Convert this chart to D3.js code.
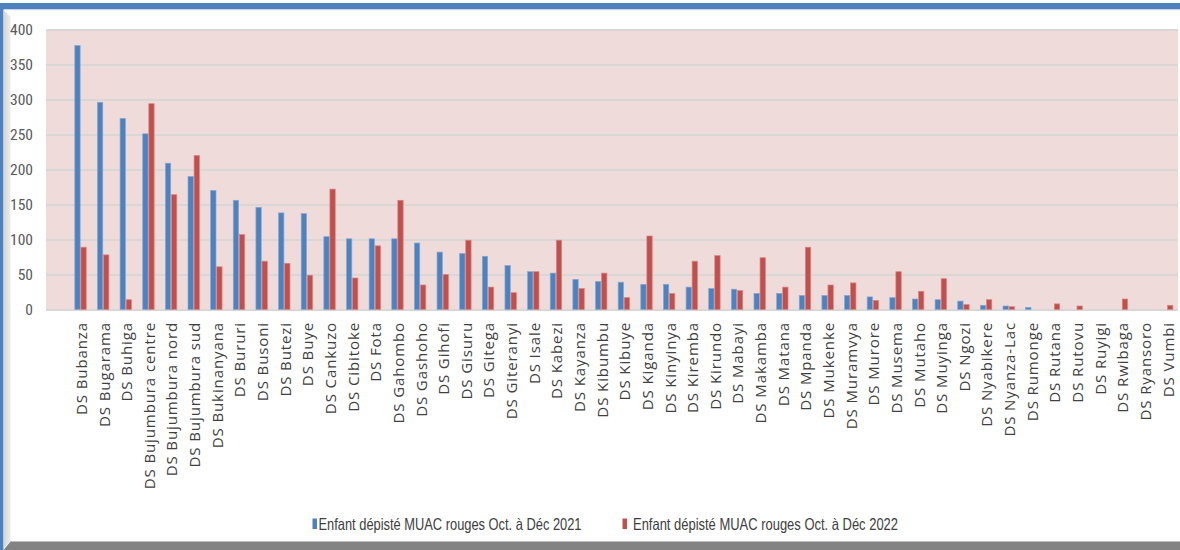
<!DOCTYPE html>
<html>
<head>
<meta charset="utf-8">
<script src="https://cdn.jsdelivr.net/npm/d3@7/dist/d3.min.js"></script>
<style>
  html, body { margin: 0; padding: 0; background: #ffffff; }
  svg { display: block; }
</style>
</head>
<body>
<svg id="chart" width="1180" height="550"></svg>
<script>
// Districts sanitaires (one group of bars per district)
const categories = [
  "DS Bubanza", "DS Bugarama", "DS Buhiga", "DS Bujumbura centre", "DS Bujumbura nord",
  "DS Bujumbura sud", "DS Bukinanyana", "DS Bururi", "DS Busoni", "DS Butezi",
  "DS Buye", "DS Cankuzo", "DS Cibitoke", "DS Fota", "DS Gahombo",
  "DS Gashoho", "DS Gihofi", "DS Gisuru", "DS Gitega", "DS Giteranyi",
  "DS Isale", "DS Kabezi", "DS Kayanza", "DS Kibumbu", "DS Kibuye",
  "DS Kiganda", "DS Kinyinya", "DS Kiremba", "DS Kirundo", "DS Mabayi",
  "DS Makamba", "DS Matana", "DS Mpanda", "DS Mukenke", "DS Muramvya",
  "DS Murore", "DS Musema", "DS Mutaho", "DS Muyinga", "DS Ngozi",
  "DS Nyabikere", "DS Nyanza-Lac", "DS Rumonge", "DS Rutana", "DS Rutovu",
  "DS Ruyigi", "DS Rwibaga", "DS Ryansoro", "DS Vumbi"
];

// Enfants dépistés MUAC rouges, Oct. à Déc 2021
const values2021 = [
  377, 296, 273, 251, 209, 190, 170, 156, 146, 138,
  137, 104, 101, 101, 101, 95, 82, 80, 76, 63,
  54, 52, 43, 40, 39, 36, 36, 32, 30, 29,
  23, 23, 20, 20, 20, 18, 17, 15, 14, 12,
  6, 5, 3, 0, 0, 0, 0, 0, 0
];

// Enfants dépistés MUAC rouges, Oct. à Déc 2022
const values2022 = [
  89, 78, 14, 294, 164, 220, 61, 107, 69, 66,
  49, 172, 45, 91, 156, 35, 50, 99, 32, 24,
  54, 99, 30, 52, 17, 105, 23, 69, 77, 27,
  74, 32, 89, 35, 38, 13, 54, 26, 44, 7,
  14, 4, 0, 8, 5, 0, 15, 0, 6
];

const seriesNames = [
  "Enfant dépisté MUAC rouges Oct. à Déc 2021",
  "Enfant dépisté MUAC rouges Oct. à Déc 2022"
];
const seriesColors = ["#4f81bd", "#c0504d"];
const seriesStrokes = ["#86a7d3", "#d88583"];

const yTicks = [0, 50, 100, 150, 200, 250, 300, 350, 400];

const svg = d3.select("#chart");
const W = 1180, H = 550;

// ---- outer frame: blue top and left edges, grey bottom edge ----
const frame = svg.append("g");
frame.append("rect").attr("x", 0).attr("y", 3).attr("width", W).attr("height", 6).attr("fill", "#4f81bd");
frame.append("rect").attr("x", 0).attr("y", 9).attr("width", W).attr("height", 1.2).attr("fill", "#c6d6ea");
frame.append("rect").attr("x", 0).attr("y", 3).attr("width", 3.5).attr("height", H - 3).attr("fill", "#4f81bd");

const defs = svg.append("defs");
const lg = defs.append("linearGradient").attr("id", "leftShade").attr("x1", 0).attr("x2", 1).attr("y1", 0).attr("y2", 0);
lg.append("stop").attr("offset", "0%").attr("stop-color", "#d4d4d4");
lg.append("stop").attr("offset", "100%").attr("stop-color", "#ececec");
frame.append("polygon")
  .attr("points", "3.5,10 10.5,17 10.5,541 3.5,548")
  .attr("fill", "url(#leftShade)");
frame.append("polygon")
  .attr("points", `3.5,550 10.5,541.5 ${W},541.5 ${W},550`)
  .attr("fill", "#838383");
frame.append("line")
  .attr("x1", 10.5).attr("x2", W).attr("y1", 541.5).attr("y2", 541.5)
  .attr("stroke", "#bdbdbd").attr("stroke-width", 1.2);

// ---- plot area ----
const plotLeft = 46, plotRight = 1178, plotTop = 29.5, plotBottom = 309.5;

const y = d3.scaleLinear().domain([0, 400]).range([plotBottom, plotTop]);

const x0 = d3.scaleBand()
  .domain(categories)
  .range([69.2, 1178.5])
  .padding(0);

const groupHalf = 5.7;
const x1 = d3.scaleBand()
  .domain([0, 1])
  .range([x0.bandwidth() / 2 - groupHalf, x0.bandwidth() / 2 + groupHalf])
  .paddingInner(0.12)
  .paddingOuter(0);

svg.append("rect")
  .attr("x", plotLeft).attr("y", plotTop)
  .attr("width", plotRight - plotLeft).attr("height", plotBottom - plotTop)
  .attr("fill", "#f0dbdb");

// horizontal gridlines
const grid = svg.append("g")
  .attr("transform", `translate(${plotLeft},0)`)
  .call(d3.axisLeft(y).tickValues(yTicks).tickSize(-(plotRight - plotLeft)).tickFormat(""));
grid.select(".domain").remove();
grid.selectAll("line").attr("stroke", "#d9d6d6").attr("stroke-width", 2);

// y axis labels
const yAxis = svg.append("g")
  .attr("transform", `translate(${plotLeft},0)`)
  .call(d3.axisLeft(y).tickValues(yTicks).tickSize(0).tickPadding(13));
yAxis.select(".domain").remove();
yAxis.selectAll("text")
  .attr("fill", "#595959")
  .style("font-family", "'Liberation Sans Narrow', 'Roboto Condensed', 'Liberation Sans', sans-serif")
  .style("font-size", "15.5px");

// bars
const seriesData = [values2021, values2022];
const groups = svg.append("g").selectAll("g")
  .data(categories)
  .join("g")
  .attr("transform", d => `translate(${x0(d)},0)`);

groups.selectAll("rect")
  .data((d, i) => seriesData.map((vals, s) => ({ s, v: vals[i] })))
  .join("rect")
  .filter(d => d.v > 0)
  .attr("x", d => x1(d.s))
  .attr("y", d => y(d.v))
  .attr("width", x1.bandwidth())
  .attr("height", d => y(0) - y(d.v))
  .attr("fill", d => seriesColors[d.s])
  .attr("stroke", d => seriesStrokes[d.s])
  .attr("stroke-width", 0.7);

// category labels, rotated
svg.append("g").selectAll("text")
  .data(categories)
  .join("text")
  .attr("transform", d => `translate(${x0(d) + x0.bandwidth() / 2 + 1},322) rotate(-90)`)
  .attr("text-anchor", "end")
  .attr("dy", "0.36em")
  .attr("fill", "#404040")
  .style("font-family", "'Open Sans', 'DejaVu Sans', sans-serif")
  .style("font-size", "15px")
  .style("letter-spacing", "0.9px")
  .text(d => d);

// legend
const legendItems = [
  { name: seriesNames[0], color: seriesColors[0], mx: 312.5, tx: 318.5, tw: 263 },
  { name: seriesNames[1], color: seriesColors[1], mx: 622.5, tx: 633, tw: 265 }
];
const legend = svg.append("g");
legend.selectAll("rect")
  .data(legendItems)
  .join("rect")
  .attr("x", d => d.mx).attr("y", 518.5)
  .attr("width", 4.5).attr("height", 10.5)
  .attr("fill", d => d.color);
legend.selectAll("text")
  .data(legendItems)
  .join("text")
  .attr("x", d => d.tx).attr("y", 529.5)
  .attr("textLength", d => d.tw)
  .attr("lengthAdjust", "spacingAndGlyphs")
  .attr("fill", "#404040")
  .style("font-family", "'Liberation Sans Narrow', 'Liberation Sans', sans-serif")
  .style("font-size", "16.5px")
  .text(d => d.name);
</script>
</body>
</html>
